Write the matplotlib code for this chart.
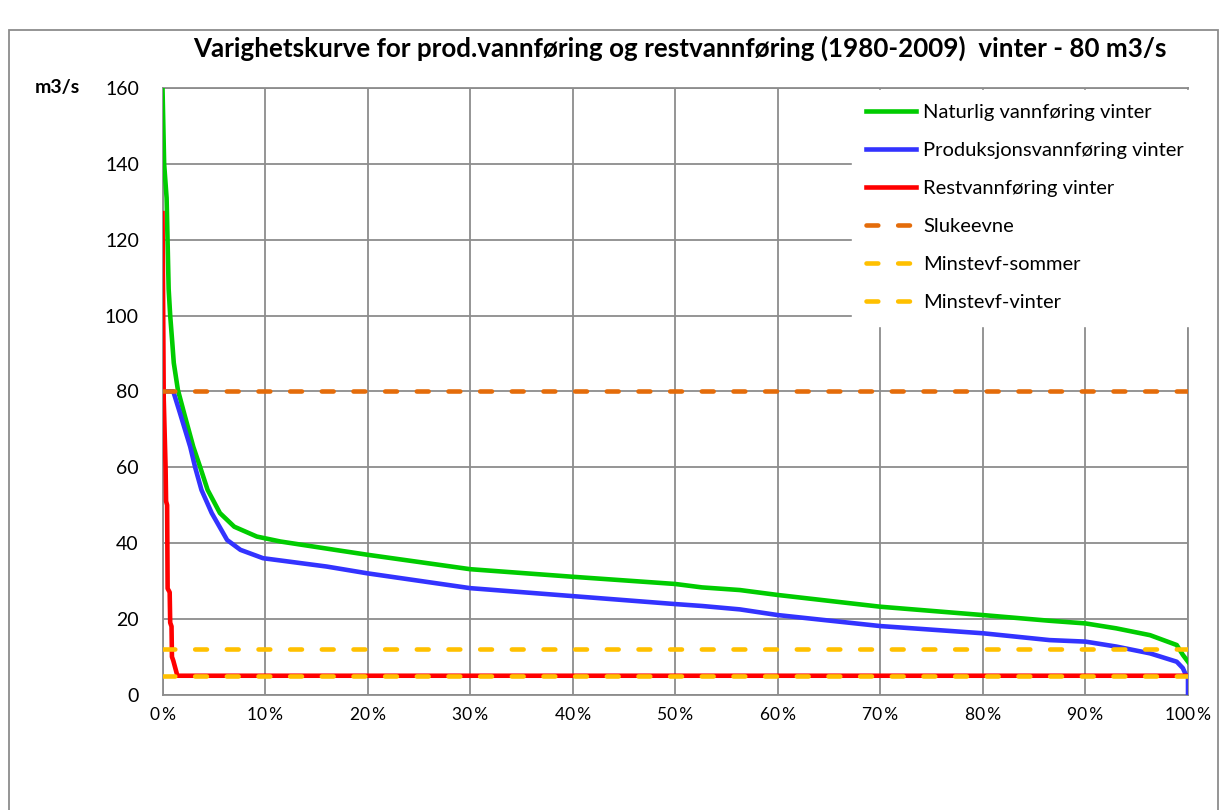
import matplotlib
matplotlib.use("Agg")
import matplotlib.pyplot as plt
from matplotlib.patches import Rectangle
from matplotlib.ticker import FixedLocator, FuncFormatter

plt.rcParams['font.family'] = ['Lato', 'DejaVu Sans']
plt.rcParams['lines.scale_dashes'] = False

# ---- data (percent of time exceeded, m3/s) ----
natural_x = [0, 0.16, 0.4, 0.6, 0.75, 0.95, 1.1, 1.5, 2.1, 3.0, 3.7, 4.4, 5.6, 7.0, 9.2, 11.5,
             17.3, 20, 30, 40, 50, 52.6, 56.3, 60, 70, 80, 86.5, 90, 93, 96.3, 98.9, 99.5, 100]
natural_y = [160, 140, 131, 107, 100, 93, 87.5, 80.4, 74.3, 65.4, 59.8, 54, 47.9, 44.3, 41.7, 40.4,
             38, 36.9, 33.1, 31.1, 29.2, 28.3, 27.6, 26.3, 23.2, 21.0, 19.5, 18.8, 17.5, 15.7, 13.1, 10.5, 8.7]

prod_x = [0, 1.05, 1.7, 2.7, 3.2, 3.8, 4.8, 6.3, 7.6, 9.8, 16, 20, 30, 40, 50, 52.6, 56.3, 60,
          70, 80, 86.5, 90, 93, 96.3, 98.9, 99.5, 99.8, 100, 100]
prod_y = [80, 80, 74.3, 65.4, 59.8, 54, 47.9, 40.8, 38.2, 36, 33.8, 32.0, 28.1, 26.0, 23.9, 23.4, 22.5, 21.0,
          18.1, 16.2, 14.4, 14.0, 12.7, 10.9, 8.7, 7.0, 5.2, 5.0, 0]

rest_x = [0, 0.05, 0.12, 0.3, 0.35, 0.45, 0.5, 0.7, 0.75, 0.88, 0.92, 1.05, 1.45, 100]
rest_y = [127, 108, 78, 60, 51, 50, 28, 27, 19, 18, 10, 9, 5, 5]

slukeevne = 80
minstevf_sommer = 12
minstevf_vinter = 5

x_ticks = [0, 10, 20, 30, 40, 50, 60, 70, 80, 90, 100]
y_ticks = [0, 20, 40, 60, 80, 100, 120, 140, 160]

labels = ["Naturlig vannføring vinter", "Produksjonsvannføring vinter", "Restvannføring vinter",
          "Slukeevne", "Minstevf-sommer", "Minstevf-vinter"]

# ---- figure ----
W, H = 1220, 810
fig = plt.figure(figsize=(W / 100, H / 100), dpi=100)
fig.patches.append(Rectangle((9 / W, -0.01), (1218 - 9) / W, 1 - 30 / H + 0.01,
                             transform=fig.transFigure, fill=False, edgecolor='#8c8c8c',
                             linewidth=1.3, clip_on=False))

ax = fig.add_axes([162.5 / W, 1 - 694.7 / H, (1188 - 162.5) / W, (694.7 - 88) / H])

lw = 3.3
ax.plot(natural_x, natural_y, color='#00CC00', lw=lw, label=labels[0], zorder=3)
ax.plot(prod_x, prod_y, color='#3333FF', lw=lw, label=labels[1], zorder=3)
ax.plot(rest_x, rest_y, color='#FF0000', lw=lw, label=labels[2], zorder=3)
dash = (8.5, 14.3)
for val, col, lab in [(slukeevne, '#E46C0A', labels[3]),
                      (minstevf_sommer, '#FFC000', labels[4]),
                      (minstevf_vinter, '#FFC000', labels[5])]:
    ax.plot([x_ticks[0], x_ticks[-1]], [val, val], color=col, lw=lw, dashes=dash,
            dash_capstyle='round', label=lab, zorder=4)

ax.set_xlim(0, 100)
ax.set_ylim(0, 160)
ax.xaxis.set_major_locator(FixedLocator(x_ticks))
ax.yaxis.set_major_locator(FixedLocator(y_ticks))
ax.xaxis.set_major_formatter(FuncFormatter(lambda v, p: f"{int(v)}\u2009%"))
ax.grid(True, color='#8c8c8c', lw=1.3, zorder=1)
ax.set_axisbelow(True)
for s in ax.spines.values():
    s.set_color('#8c8c8c')
    s.set_linewidth(1.3)
ax.tick_params(axis='y', length=0, pad=17, labelsize=14, labelcolor='black')
ax.tick_params(axis='x', length=0, pad=9, labelsize=12.5, labelcolor='black')

leg = ax.legend(loc='upper left', bbox_to_anchor=(852 / W, 1 - 90 / H), bbox_transform=fig.transFigure,
                fontsize=14.5, frameon=True, fancybox=False, framealpha=1, facecolor='white',
                edgecolor='white', handlelength=2.5, handletextpad=0.35, labelspacing=1.04,
                borderpad=0.7, borderaxespad=0)
leg.set_zorder(10)

fig.text(680 / W, 1 - 48 / H,
         "Varighetskurve for prod.vannføring og restvannføring (1980-2009)  vinter - 80 m3/s",
         ha='center', va='center', fontsize=18.7, fontweight='bold')
fig.text(57 / W, 1 - 88 / H, "m3/s", ha='center', va='center', fontsize=14, fontweight='bold')

fig.savefig("out.png", dpi=100, facecolor='white')
